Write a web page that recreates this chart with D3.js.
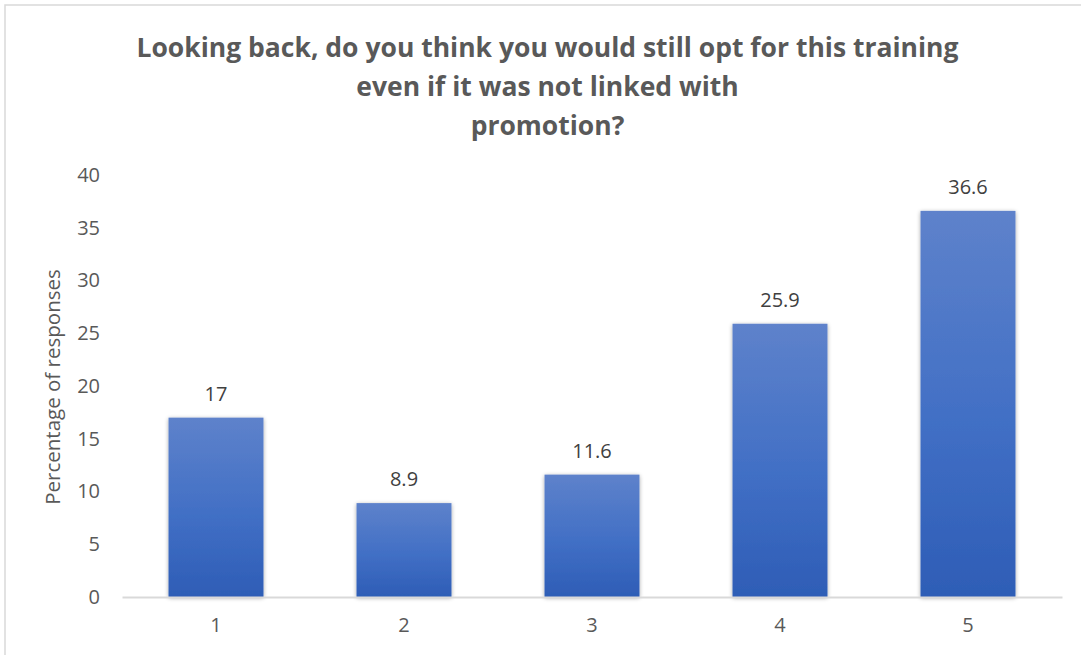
<!DOCTYPE html>
<html>
<head>
<meta charset="utf-8">
<script src="https://cdn.jsdelivr.net/npm/d3@7"></script>
<style>
  html, body { margin: 0; padding: 0; background: #fff; }
  svg { display: block; font-family: "Open Sans", "Noto Sans", sans-serif; }
</style>
</head>
<body>
<svg id="chart" width="1081" height="655"></svg>
<script>
// Survey answers on a 1–5 scale, share of respondents per answer
const categories = ["1", "2", "3", "4", "5"];
const values = [17, 8.9, 11.6, 25.9, 36.6];
const yTicks = [0, 5, 10, 15, 20, 25, 30, 35, 40];
const titleLines = [
  "Looking back, do you think you would still opt for this training",
  "even if it was not linked with",
  "promotion?"
];
const yAxisTitle = "Percentage of responses";

const svg = d3.select("#chart");
const W = 1081, H = 655;
const plot = { left: 122, right: 1062, top: 175, bottom: 597 };
const textColor = "#595959";

// outer chart frame (runs past the right and bottom edges)
svg.append("rect")
  .attr("x", 5).attr("y", 5)
  .attr("width", W + 10).attr("height", H + 10)
  .attr("fill", "#fff").attr("stroke", "#d9d9d9").attr("stroke-width", 1.5);

const defs = svg.append("defs");
const grad = defs.append("linearGradient")
  .attr("id", "barFill").attr("x1", 0).attr("y1", 0).attr("x2", 0).attr("y2", 1);
grad.append("stop").attr("offset", "0%").attr("stop-color", "#5e82cb");
grad.append("stop").attr("offset", "55%").attr("stop-color", "#416fc5");
grad.append("stop").attr("offset", "100%").attr("stop-color", "#2e5db6");

const shadow = defs.append("filter").attr("id", "barShadow")
  .attr("x", "-10%").attr("y", "-10%").attr("width", "120%").attr("height", "120%");
shadow.append("feGaussianBlur").attr("in", "SourceAlpha").attr("stdDeviation", 2).attr("result", "b");
shadow.append("feOffset").attr("in", "b").attr("dx", 0).attr("dy", 1).attr("result", "o");
shadow.append("feComponentTransfer").attr("in", "o").attr("result", "s")
  .append("feFuncA").attr("type", "linear").attr("slope", 0.35);
const merge = shadow.append("feMerge");
merge.append("feMergeNode").attr("in", "s");
merge.append("feMergeNode").attr("in", "SourceGraphic");

const x = d3.scaleBand()
  .domain(categories)
  .range([plot.left, plot.right])
  .paddingInner(0.495)
  .paddingOuter(0.2475);

const y = d3.scaleLinear()
  .domain([0, 40])
  .range([plot.bottom, plot.top]);

// title
const title = svg.append("text")
  .attr("text-anchor", "middle")
  .attr("fill", textColor)
  .attr("font-weight", "bold")
  .attr("font-size", 26.5);
titleLines.forEach((line, i) => {
  title.append("tspan")
    .attr("x", W / 2 + 7)
    .attr("y", 57 + i * 39)
    .text(line);
});

// y axis labels (no axis line)
const yAxis = svg.append("g")
  .attr("transform", `translate(${plot.left - 22},0)`)
  .call(d3.axisLeft(y).tickValues(yTicks).tickSize(0).tickPadding(0));
yAxis.select(".domain").remove();
yAxis.selectAll("text")
  .attr("fill", textColor)
  .attr("font-size", 20)
  .attr("font-family", "Open Sans, sans-serif");

// y axis title
svg.append("text")
  .attr("transform", `translate(60,${(plot.top + plot.bottom) / 2 + 1}) rotate(-90)`)
  .attr("text-anchor", "middle")
  .attr("fill", textColor)
  .attr("font-size", 20.5)
  .text(yAxisTitle);

// bars
svg.append("g").selectAll("rect")
  .data(values)
  .join("rect")
  .attr("x", (d, i) => x(categories[i]))
  .attr("y", d => y(d))
  .attr("width", x.bandwidth())
  .attr("height", d => y(0) - y(d))
  .attr("fill", "url(#barFill)")
  .attr("filter", "url(#barShadow)");

// value labels
svg.append("g").selectAll("text")
  .data(values)
  .join("text")
  .attr("x", (d, i) => x(categories[i]) + x.bandwidth() / 2)
  .attr("y", d => y(d) - 17)
  .attr("text-anchor", "middle")
  .attr("fill", "#404040")
  .attr("font-size", 20)
  .text(d => d);

// x axis baseline and category labels
const xAxis = svg.append("g")
  .attr("transform", `translate(0,${plot.bottom})`)
  .call(d3.axisBottom(x).tickSize(0).tickPadding(21));
xAxis.select(".domain").attr("stroke", "#d9d9d9").attr("stroke-width", 2);
xAxis.selectAll("text")
  .attr("fill", textColor)
  .attr("font-size", 20)
  .attr("font-family", "Open Sans, sans-serif");
</script>
</body>
</html>
